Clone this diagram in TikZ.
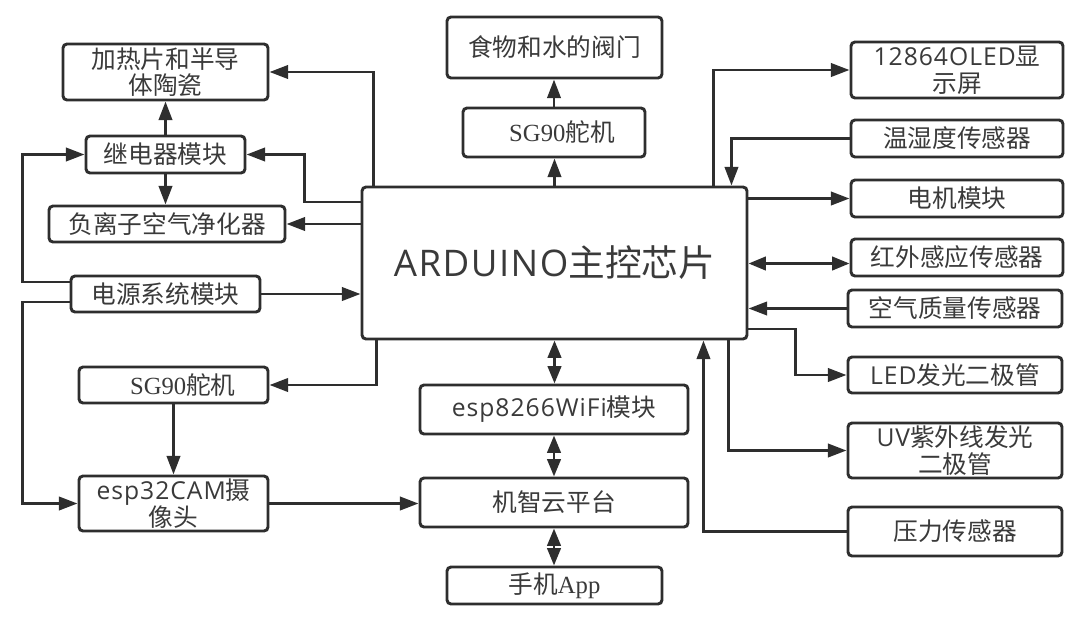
\documentclass[tikz,border=0pt]{standalone}
\usepackage{fontspec}
\setmainfont{Noto Sans CJK SC}
\newfontfamily\serifl{Liberation Serif}
\newfontfamily\lat[LetterSpace=4]{Open Sans}
\usetikzlibrary{arrows.meta,calc}
\definecolor{ink}{HTML}{2E2E2E}
\definecolor{txt}{HTML}{3A3A3A}
\tikzset{
  box/.style={draw=ink, line width=2.2pt, rounded corners=3pt, fill=white,
    text=txt, align=center, inner sep=0pt,
    font=\fontsize{18.5}{20}\selectfont},
  arr/.style={draw=ink, line width=2.2pt, -{Triangle[length=14pt,width=10pt]}},
  darr/.style={draw=ink, line width=2.2pt, {Triangle[length=13pt,width=10pt]}-{Triangle[length=13pt,width=10pt]}},
}
\newcommand{\bx}[6]{\node[box, minimum width=#4*0.75pt, minimum height=#5*0.75pt] (#1) at (#2,#3) {#6};}
\begin{document}
\begin{tikzpicture}[x=0.75pt,y=-0.75pt]
\useasboundingbox (0,0) rectangle (1080,619);
% left column
\bx{heat}{165.5}{72}{205}{56}{加热片和半导\\体陶瓷}
\bx{relay}{165.5}{154.5}{159}{37}{继电器模块}
\bx{anion}{167}{224}{236}{36}{负离子空气净化器}
\bx{power}{165.5}{294}{189}{36}{电源系统模块}
\bx{sgl}{173.5}{385}{189}{36}{\hspace*{14pt}{\serifl SG90}舵机}
\bx{cam}{173.5}{503.5}{189}{55}{{\lat esp32CAM}摄\\像头}
% center
\bx{food}{554.5}{47.5}{215}{61}{食物和水的阀门}
\bx{sgt}{554}{132.5}{182}{49}{\hspace*{12pt}{\serifl SG90}舵机}
\node[box, minimum width=385*0.75pt, minimum height=152*0.75pt,
  font=\fontsize{27.5}{29}\selectfont] (ard) at (554.5,263) {{\lat ARDUINO}主控芯片};
\bx{wifi}{554}{409.5}{268}{49}{{\lat esp8266WiFi}模块}
\bx{cloud}{554}{502.5}{268}{49}{机智云平台}
\bx{app}{554.5}{585.5}{215}{37}{手机{\serifl App}}
% right column
\bx{oled}{957}{70}{212}{56}{{\lat 12864OLED}显\\示屏}
\bx{th}{957}{138.5}{212}{37}{温湿度传感器}
\bx{motor}{957}{198.5}{212}{37}{电机模块}
\bx{ir}{957}{257.5}{212}{37}{红外感应传感器}
\bx{air}{955}{308.5}{214}{37}{空气质量传感器}
\bx{led}{955}{375}{214}{36}{{\lat LED}发光二极管}
\bx{uv}{955}{450.5}{214}{55}{{\lat UV}紫外线发光\\二极管}
\bx{press}{955}{531.5}{214}{49}{压力传感器}
% left connectors
\draw[arr] ($(ard.north west)+(13,0)$) |- (heat.east);
\draw[arr] ($(ard.west)+(0,-61)$) -| ($(relay.east)+(58,0)$) -- (relay.east);
\draw[arr] (ard.west |- anion.east) -- (anion.east);
\draw[arr] (relay.north) -- (heat.south);
\draw[arr] (relay.south) -- (relay.south |- anion.north);
\draw[arr] ($(power.west)+(0,-12)$) -- ++(-47,0) |- (relay.west);
\draw[arr] ($(power.west)+(0,8)$) -- ++(-47,0) |- (cam.west);
\draw[arr] (power.east) -- (power.east -| ard.west);
\draw[arr] ($(ard.south west)+(16,0)$) |- (sgl.east);
\draw[arr] (sgl.south) -- (sgl.south |- cam.north);
\draw[arr] (cam.east) -- (cam.east -| cloud.west);
% center connectors
\draw[arr] (ard.north) -- (ard.north |- sgt.south);
\draw[arr] (sgt.north) -- (sgt.north |- food.south);
\draw[darr] (ard.south) -- (ard.south |- wifi.north);
\draw[darr] (wifi.south) -- (cloud.north);
\draw[darr] (cloud.south) -- (cloud.south |- app.north);
% right connectors
\draw[arr] ($(ard.north east)+(-35,0)$) |- (oled.west);
\draw[arr] (th.west) -| ($(ard.north east)+(-17,0)$);
\draw[arr] (ard.east |- motor.west) -- (motor.west);
\draw[darr] ($(ard.east |- ir.west)+(0,6)$) -- ($(ir.west)+(0,6)$);
\draw[arr] (air.west) -- (air.west -| ard.east);
\draw[arr] ($(ard.east)+(0,66)$) -| ($(led.west)+(-51,0)$) -- (led.west);
\draw[arr] ($(ard.south east)+(-20,0)$) |- (uv.west);
\draw[arr] (press.west) -| ($(ard.south east)+(-45,0)$);
\end{tikzpicture}
\end{document}
